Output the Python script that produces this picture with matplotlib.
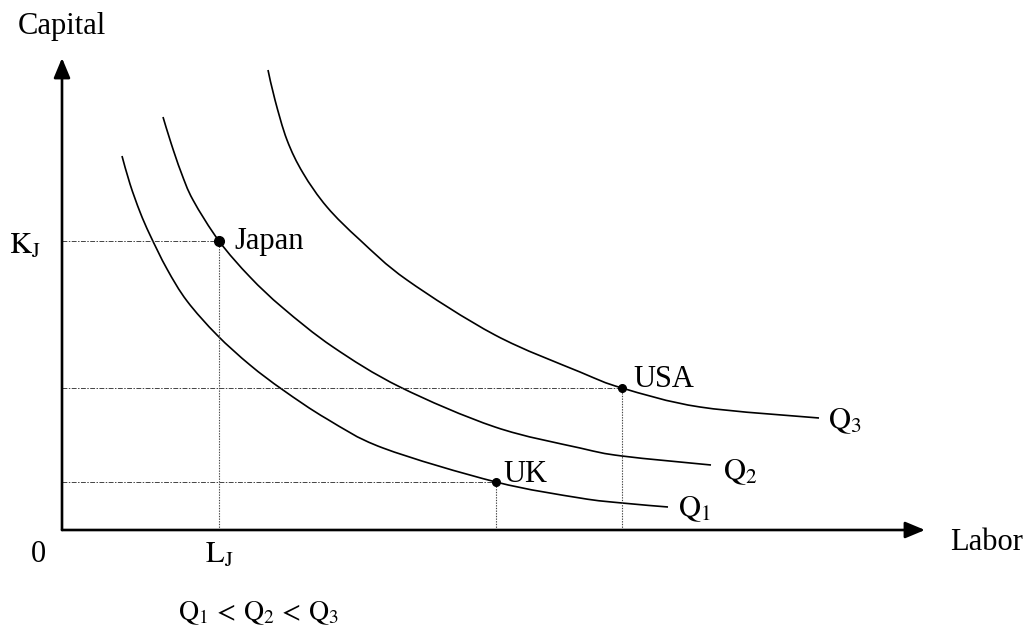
import matplotlib
matplotlib.use("Agg")
import matplotlib.pyplot as plt
from matplotlib.path import Path
from matplotlib.patches import PathPatch

plt.rcParams['font.family'] = ['Liberation Serif', 'DejaVu Serif']
plt.rcParams['mathtext.fontset'] = 'stix'

# ---- data (Labor, Capital) in arbitrary units ----
q1_labor = [6.0, 6.8, 7.8, 8.8, 10.5, 12.5, 15.5, 18.8, 22.1, 26.5, 32.1, 43.4, 51.8, 56.0, 60.6]
q1_capital = [37.4, 34.6, 31.8, 29.5, 26.1, 22.9, 19.5, 16.5, 14.0, 11.1, 8.2, 4.8, 3.2, 2.7, 2.3]

q2_labor = [10.1, 10.9, 11.9, 13.1, 15.7, 18.8, 22.1, 27.1, 33.8, 43.3, 51.8, 56.0, 64.9]
q2_capital = [41.3, 38.7, 35.8, 33.0, 28.9, 25.3, 22.2, 18.3, 14.3, 10.3, 8.2, 7.4, 6.5]

q3_labor = [20.6, 21.3, 22.5, 24.1, 26.5, 29.8, 34.5, 43.3, 51.8, 56.0, 63.8, 75.7]
q3_capital = [46.0, 43.0, 39.0, 35.7, 32.3, 29.0, 25.0, 19.5, 15.8, 14.2, 12.3, 11.2]

countries = ["Japan", "USA", "UK"]
country_labor = [15.7, 56.0, 43.4]
country_capital = [28.9, 14.2, 4.8]

curve_labels = [r"$\mathrm{Q}_1$", r"$\mathrm{Q}_2$", r"$\mathrm{Q}_3$"]

x_axis_end = 86.3
y_axis_end = 47.2


def smooth_path(xs, ys):
    """Cubic Bezier path through the given points (Catmull-Rom tangents)."""
    pts = list(zip(xs, ys))
    n = len(pts)
    verts = [pts[0]]
    codes = [Path.MOVETO]
    for i in range(n - 1):
        p0 = pts[i - 1] if i > 0 else pts[i]
        p1 = pts[i]
        p2 = pts[i + 1]
        p3 = pts[i + 2] if i + 2 < n else pts[i + 1]
        c1 = (p1[0] + (p2[0] - p0[0]) / 6.0, p1[1] + (p2[1] - p0[1]) / 6.0)
        c2 = (p2[0] - (p3[0] - p1[0]) / 6.0, p2[1] - (p3[1] - p1[1]) / 6.0)
        verts += [c1, c2, p2]
        codes += [Path.CURVE4, Path.CURVE4, Path.CURVE4]
    return Path(verts, codes)


fig = plt.figure(figsize=(10.3, 6.32), dpi=100)
ax = fig.add_axes([0, 0, 1, 1])
ax.set_xlim(-6.2, 96.8)
ax.set_ylim(-10.2, 53.0)
ax.axis('off')

# axes with arrows
arrow_style = '-|>,head_length=0.6,head_width=0.25'
ax.annotate('', xy=(x_axis_end, 0), xytext=(0, 0),
            arrowprops=dict(arrowstyle=arrow_style, lw=1.9, color='black',
                            mutation_scale=20, shrinkA=0, shrinkB=0))
ax.annotate('', xy=(0, y_axis_end), xytext=(0, 0),
            arrowprops=dict(arrowstyle=arrow_style, lw=1.9, color='black',
                            mutation_scale=20, shrinkA=0, shrinkB=0))

# guide lines
for L, K in zip(country_labor, country_capital):
    ax.plot([0, L], [K, K], color='#444444', lw=0.7, ls=(0, (5, 1.5, 1.5, 1.5)))
    ax.plot([L, L], [0, K], color='#444444', lw=0.8, ls=(0, (1.2, 1.2)))

# isoquants
curves = [(q1_labor, q1_capital), (q2_labor, q2_capital), (q3_labor, q3_capital)]
label_offsets = [(7, -6.5), (8.5, -10), (6.5, -7)]
for (ls_, ks_), lab, off in zip(curves, curve_labels, label_offsets):
    ax.add_patch(PathPatch(smooth_path(ls_, ks_), facecolor='none',
                           edgecolor='black', lw=1.2, capstyle='butt'))
    ax.annotate(lab, xy=(ls_[-1], ks_[-1]), xytext=off, textcoords='offset points',
                fontsize=22, ha='left', va='baseline')

# country points
marker_sizes = [7, 5.5, 5.5]
text_offsets = [(10.8, -5.8), (8, 0.7), (5, 0)]
for name, L, K, ms, off in zip(countries, country_labor, country_capital, marker_sizes, text_offsets):
    ax.plot([L], [K], 'o', color='black', ms=ms, zorder=5)
    ax.annotate(name, xy=(L, K), xytext=off, textcoords='offset points',
                fontsize=22, ha='left', va='baseline')

# axis labels
ax.text(-4.4, 49.6, "Capital", fontsize=22, ha='left', va='baseline')
ax.text(88.8, -2.0, "Labor", fontsize=22, ha='left', va='baseline')
ax.text(-2.4, -3.2, "0", fontsize=22, ha='center', va='baseline')
ax.text(country_labor[0], -3.3, r"$\mathrm{L_J}$", fontsize=22, ha='center', va='baseline')
ax.text(-2.1, country_capital[0] - 1.3, r"$\mathrm{K_J}$", fontsize=22, ha='right', va='baseline')
ax.text(11.6, -9.0, r"$\mathrm{Q}_1 \,<\, \mathrm{Q}_2 \,<\, \mathrm{Q}_3$", fontsize=20,
        ha='left', va='baseline')

fig.savefig("out.png", dpi=100)
